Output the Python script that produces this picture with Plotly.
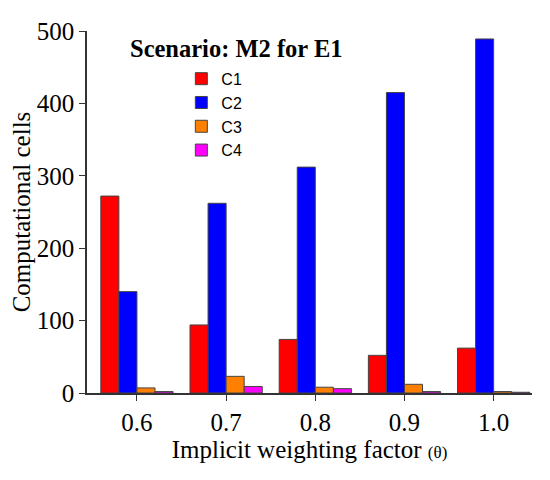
import plotly.graph_objects as go

# data
factors = ["0.6", "0.7", "0.8", "0.9", "1.0"]
c1 = [272, 94, 74, 52, 62]
c2 = [140, 262, 312, 415, 489]
c3 = [7, 23, 8, 12, 2]
c4 = [2, 9, 6, 2, 1]

series = [("C1", c1, "#FF0000"), ("C2", c2, "#0000FF"),
          ("C3", c3, "#FF8000"), ("C4", c4, "#FF00FF")]

serif = "Liberation Serif"
axis_col = "#333333"

fig = go.Figure()
for name, vals, col in series:
    fig.add_trace(go.Bar(x=factors, y=vals, name=name,
                         marker=dict(color=col, line=dict(color="#444444", width=1))))

# page body has an 8px margin, so the figure is 8px smaller than the window
fig.update_layout(
    width=542, height=472,
    margin=dict(l=79, r=18, t=23, b=87),
    plot_bgcolor="white", paper_bgcolor="white",
    barmode="group", bargap=0.19, bargroupgap=0,
    font=dict(family=serif, size=25, color="black"),
    legend=dict(x=0.212, y=0.915, xanchor="left", yanchor="top",
                font=dict(family="Liberation Sans", size=16),
                bgcolor="rgba(0,0,0,0)", tracegroupgap=0),
    annotations=[dict(text="<b>Scenario: M2 for E1</b>", x=0.093, y=0.995,
                      xref="paper", yref="paper", xanchor="left", yanchor="top",
                      showarrow=False, font=dict(family=serif, size=24.5))],
)
fig.update_xaxes(
    type="category", range=[-0.56, 4.43], automargin=False,
    showline=True, linecolor=axis_col, linewidth=1.5,
    ticks="outside", ticklen=6, tickcolor=axis_col,
    tickfont=dict(family=serif, size=25),
    title=dict(text="Implicit weighting factor <span style='font-size:17px'>(θ)</span>",
               font=dict(family=serif, size=25), standoff=6),
)
fig.update_yaxes(
    range=[0, 500], dtick=100, showgrid=False, zeroline=False, automargin=False,
    showline=True, linecolor=axis_col, linewidth=1.5,
    ticks="outside", ticklen=6, tickcolor=axis_col,
    tickfont=dict(family=serif, size=25),
    title=dict(text="Computational cells", font=dict(family=serif, size=25), standoff=6),
)

fig.write_html("out.html")
